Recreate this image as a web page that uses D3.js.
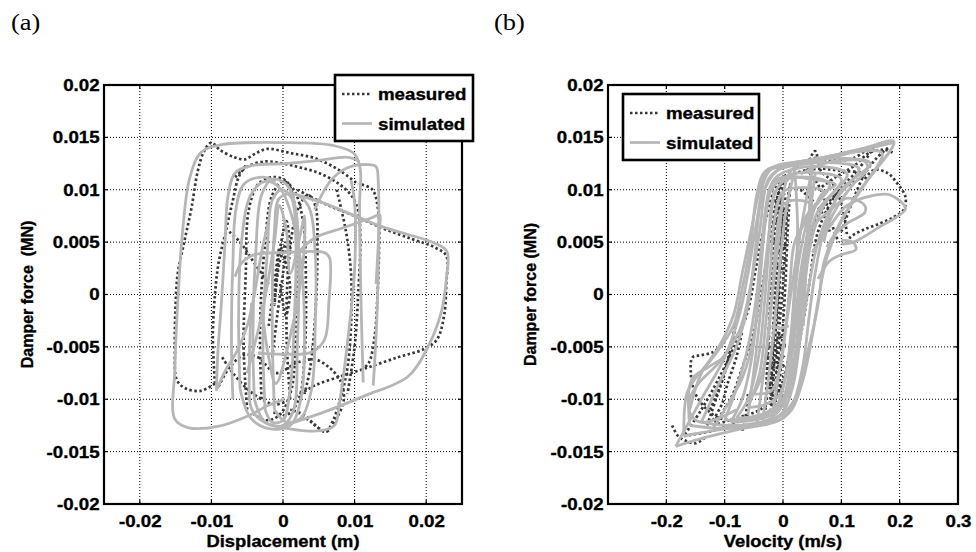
<!DOCTYPE html>
<html><head><meta charset="utf-8">
<script src="https://cdn.jsdelivr.net/npm/d3@7"></script>
<style>
html,body{margin:0;padding:0;background:#fff;}
text{font-family:"Liberation Sans",Arimo,Arial,sans-serif;font-weight:bold;fill:#000;stroke:#000;stroke-width:0.35px;}
</style></head>
<body><div id="chart"></div>
<script>
// ---------------- data ----------------
const seriesNames = ["measured", "simulated"];
const panelTitles = ["(a)", "(b)"];
const yTicks = [-0.02, -0.015, -0.01, -0.005, 0, 0.005, 0.01, 0.015, 0.02];
const xTicksA = [-0.02, -0.01, 0, 0.01, 0.02];
const xTicksB = [-0.2, -0.1, 0, 0.1, 0.2, 0.3];
const xLabels = ["Displacement (m)", "Velocity (m/s)"];
const yLabels = ["Damper force \u00a0(MN)", "Damper force (MN)"];

// panel (a): displacement [m] vs damper force [MN]
const dispMeasured = [
  [[-0.0095,-0.0085],[-0.0115,-0.0092],[-0.0135,-0.0090],[-0.0148,-0.0082],[-0.0151,-0.0050],[-0.0150,-0.0010],[-0.0147,0.0020],[-0.0138,0.0050],[-0.0128,0.0082],[-0.0119,0.0118],[-0.0110,0.0137],[-0.0100,0.0145],[-0.0088,0.0138],[-0.0068,0.0131],[-0.0053,0.0129],[-0.0040,0.0134],[-0.0022,0.0139],[0.0010,0.0135],[0.0045,0.0130],[0.0080,0.0118],[0.0105,0.0105]],
  [[0.0020,0.0100],[0.0060,0.0086],[0.0100,0.0075],[0.0140,0.0063],[0.0180,0.0053],[0.0212,0.0045],[0.0228,0.0037],[0.0228,0.0010],[0.0225,-0.0020],[0.0215,-0.0043],[0.0197,-0.0052],[0.0160,-0.0060],[0.0113,-0.0071],[0.0081,-0.0078],[0.0044,-0.0087],[0.0020,-0.0097]],
  [[-0.0067,0.0112],[-0.0050,0.0122],[-0.0025,0.0127],[0.0000,0.0125],[0.0025,0.0121],[0.0050,0.0116],[0.0075,0.0107],[0.0095,0.0095],[0.0105,0.0080],[0.0108,0.0050],[0.0105,0.0000],[0.0100,-0.0050],[0.0090,-0.0095]],
  [[0.0110,0.0105],[0.0125,0.0100],[0.0133,0.0080],[0.0134,0.0040],[0.0132,0.0000],[0.0128,-0.0040],[0.0120,-0.0065],[0.0110,-0.0072]],
  [[-0.0095,-0.0085],[-0.0098,-0.0040],[-0.0095,0.0000],[-0.0090,0.0030],[-0.0080,0.0060],[-0.0070,0.0090],[-0.0062,0.0112],[-0.0050,0.0125]],
  [[-0.0090,-0.0088],[-0.0075,-0.0070],[-0.0055,-0.0058],[-0.0035,-0.0060],[-0.0010,-0.0075],[0.0020,-0.0065],[0.0045,-0.0062],[0.0065,-0.0070],[0.0080,-0.0082],[0.0085,-0.0100],[0.0075,-0.0118],[0.0060,-0.0131],[0.0040,-0.0122],[0.0020,-0.0112]],
  [[-0.0050,-0.0110],[-0.0055,-0.0050],[-0.0052,0.0020],[-0.0048,0.0080],[-0.0035,0.0105],[-0.0015,0.0112],[0.0005,0.0108],[0.0015,0.0090],[0.0020,0.0040],[0.0018,-0.0030],[0.0012,-0.0090],[-0.0005,-0.0115],[-0.0025,-0.0120],[-0.0045,-0.0112]],
  [[-0.0030,-0.0100],[-0.0032,-0.0030],[-0.0025,0.0050],[-0.0015,0.0095],[0.0000,0.0108],[0.0015,0.0100],[0.0028,0.0070],[0.0032,0.0010],[0.0030,-0.0060],[0.0022,-0.0100],[0.0005,-0.0115],[-0.0015,-0.0112]],
  [[0.0010,-0.0100],[0.0005,-0.0040],[0.0008,0.0030],[0.0020,0.0080],[0.0035,0.0095],[0.0045,0.0085],[0.0048,0.0040],[0.0045,-0.0020],[0.0038,-0.0070],[0.0030,-0.0095]],
  [[-0.0015,-0.0060],[-0.0008,-0.0020],[0.0000,0.0020],[0.0005,0.0050],[-0.0005,0.0030],[-0.0012,-0.0010],[-0.0005,0.0040],[0.0005,0.0070],[0.0010,0.0040]],
  [[0.0075,0.0100],[0.0088,0.0060],[0.0095,0.0020],[0.0095,-0.0030],[0.0090,-0.0070],[0.0080,-0.0100],[0.0070,-0.0120],[0.0060,-0.0131],[0.0045,-0.0125],[0.0030,-0.0115],[0.0010,-0.0110]],
  [[-0.0085,-0.0060],[-0.0070,-0.0075],[-0.0050,-0.0090],[-0.0030,-0.0100],[-0.0010,-0.0105],[0.0010,-0.0100]],
  [[-0.0075,0.0060],[-0.0060,0.0050],[-0.0040,0.0030],[-0.0020,0.0010]],
  [[-0.0020,-0.0030],[-0.0012,0.0010],[-0.0004,0.0045],[0.0004,0.0030],[0.0010,0.0005],[0.0004,-0.0020],[-0.0004,0.0010]]
];
const dispSimulated = [
  [[0.0112,-0.0084],[0.0109,-0.0008],[0.0107,0.0087],[0.0108,0.0119],[0.0100,0.0134],[0.0072,0.0142],[0.0000,0.0145],[-0.0086,0.0143],[-0.0114,0.0136],[-0.0130,0.0112],[-0.0140,0.0062],[-0.0147,-0.0008],[-0.0151,-0.0071],[-0.0151,-0.0119],[-0.0133,-0.0127],[-0.0091,-0.0126],[-0.0049,-0.0116],[-0.0021,-0.0106],[0.0002,-0.0100]],
  [[-0.0007,-0.0127],[0.0058,-0.0112],[0.0113,-0.0097],[0.0175,-0.0078],[0.0203,-0.0049],[0.0221,-0.0017],[0.0228,0.0014],[0.0229,0.0041],[0.0212,0.0049],[0.0137,0.0065],[0.0058,0.0087],[0.0030,0.0093],[0.0012,0.0097]],
  [[0.0044,0.0081],[0.0067,0.0109],[0.0090,0.0121],[0.0119,0.0124],[0.0130,0.0122],[0.0133,0.0109],[0.0133,0.0024],[0.0130,-0.0040],[0.0126,-0.0087]],
  [[0.0016,0.0036],[0.0044,0.0054],[0.0081,0.0063],[0.0123,0.0073],[0.0135,0.0076],[0.0134,0.0060],[0.0130,0.0010]],
  [[-0.0093,-0.0092],[-0.0091,-0.0055],[-0.0086,-0.0008],[-0.0081,0.0049],[-0.0077,0.0093],[-0.0067,0.0116],[-0.0044,0.0123],[0.0002,0.0125],[0.0049,0.0128],[0.0091,0.0131],[0.0107,0.0127]],
  [[-0.0067,0.0017],[-0.0058,0.0030],[-0.0040,0.0038],[0.0002,0.0040],[0.0058,0.0040],[0.0065,0.0035],[0.0064,-0.0008],[0.0058,-0.0043],[0.0040,-0.0055],[0.0002,-0.0057],[-0.0035,-0.0056]],
  [[-0.0044,-0.0008],[-0.0047,-0.0071],[-0.0044,-0.0109],[-0.0026,-0.0122],[0.0007,-0.0128],[0.0053,-0.0130],[0.0072,-0.0125],[0.0079,-0.0103],[0.0091,-0.0040],[0.0100,0.0024],[0.0100,0.0087],[0.0095,0.0109]],
  [[-0.0040,-0.0100],[-0.0042,-0.0040],[-0.0038,0.0040],[-0.0030,0.0095],[-0.0015,0.0110],[0.0005,0.0105],[0.0018,0.0080],[0.0022,0.0020],[0.0020,-0.0050],[0.0015,-0.0110],[0.0000,-0.0125],[-0.0025,-0.0122],[-0.0040,-0.0100]],
  [[-0.0025,-0.0110],[-0.0028,-0.0040],[-0.0022,0.0040],[-0.0015,0.0090],[-0.0002,0.0100],[0.0012,0.0092],[0.0018,0.0050],[0.0016,-0.0020],[0.0010,-0.0090],[0.0000,-0.0120],[-0.0015,-0.0122],[-0.0025,-0.0110]],
  [[-0.0050,-0.0075],[-0.0030,-0.0020],[-0.0012,0.0050],[-0.0005,0.0085],[0.0005,0.0060],[0.0010,0.0020],[0.0025,0.0060],[0.0030,0.0075],[0.0028,0.0030],[0.0010,-0.0040],[-0.0010,-0.0085],[-0.0020,-0.0060],[-0.0030,-0.0010]],
  [[-0.0060,-0.0090],[-0.0062,-0.0020],[-0.0058,0.0050],[-0.0045,0.0095],[-0.0025,0.0108],[-0.0005,0.0102],[0.0010,0.0080],[0.0025,0.0030],[0.0030,-0.0040],[0.0025,-0.0100],[0.0010,-0.0125],[-0.0020,-0.0128],[-0.0045,-0.0118],[-0.0060,-0.0090]],
  [[-0.0012,-0.0110],[-0.0015,-0.0030],[-0.0012,0.0060],[-0.0005,0.0092],[0.0015,0.0096],[0.0035,0.0085],[0.0045,0.0040],[0.0045,-0.0030],[0.0040,-0.0090],[0.0025,-0.0118],[0.0005,-0.0122],[-0.0012,-0.0110]],
  [[-0.0092,-0.0090],[-0.0080,-0.0072],[-0.0065,-0.0055],[-0.0050,-0.0030],[-0.0040,0.0000],[-0.0030,0.0040],[-0.0020,0.0070]],
  [[-0.0070,-0.0100],[-0.0072,-0.0040],[-0.0070,0.0030],[-0.0066,0.0080],[-0.0055,0.0105],[-0.0030,0.0112],[-0.0010,0.0108]]
];

// panel (b): velocity [m/s] vs damper force [MN]
const velMeasured = [
  [[-0.17,-0.0135],[-0.12,-0.0130],[-0.07,-0.0120],[-0.02,-0.0112],[0.01,-0.0090],[0.03,-0.0040],[0.045,0.0010],[0.06,0.0060],[0.09,0.0095],[0.13,0.0120],[0.155,0.0142],[0.12,0.0130],[0.08,0.0128],[0.05,0.0130],[0.02,0.0120],[-0.01,0.0105],[-0.03,0.0070],[-0.045,0.0030],[-0.06,-0.0015],[-0.08,-0.0045],[-0.11,-0.0080],[-0.14,-0.0110],[-0.17,-0.0135]],
  [[-0.12,-0.0125],[-0.08,-0.0118],[-0.04,-0.0110],[-0.01,-0.0095],[0.01,-0.0060],[0.025,-0.0010],[0.04,0.0040],[0.06,0.0075],[0.10,0.0100],[0.14,0.0115],[0.10,0.0118],[0.06,0.0120],[0.02,0.0115],[-0.005,0.0100],[-0.02,0.0060],[-0.035,0.0010],[-0.05,-0.0035],[-0.07,-0.0070],[-0.09,-0.0100],[-0.12,-0.0125]],
  [[-0.028,-0.0105],[-0.026,-0.0060],[-0.022,-0.0010],[-0.018,0.0040],[-0.012,0.0080],[-0.005,0.0095],[0.000,0.0080],[-0.004,0.0040],[-0.010,-0.0010],[-0.015,-0.0060],[-0.018,-0.0100],[-0.022,-0.0112]],
  [[-0.020,-0.0095],[-0.018,-0.0050],[-0.014,0.0000],[-0.010,0.0050],[-0.006,0.0085],[-0.002,0.0070],[-0.004,0.0030],[-0.008,-0.0020],[-0.010,-0.0060],[-0.012,-0.0090]],
  [[-0.012,-0.0100],[-0.008,-0.0060],[-0.006,-0.0030],[0.000,0.0010],[0.004,0.0050],[0.008,0.0090],[0.012,0.0105],[0.008,0.0060],[0.004,0.0010],[0.000,-0.0030],[-0.004,-0.0070],[-0.008,-0.0100]],
  [[-0.030,-0.0110],[-0.028,-0.0080],[-0.025,-0.0040],[-0.020,0.0000],[-0.015,0.0050],[-0.010,0.0090],[-0.004,0.0105],[0.002,0.0095],[0.004,0.0060]],
  [[-0.024,-0.0095],[-0.020,-0.0065],[-0.016,-0.0035],[-0.012,0.0015],[-0.008,0.0065],[-0.003,0.0088],[0.001,0.0075]],
  [[-0.022,-0.0105],[-0.019,-0.0070],[-0.016,-0.0040],[-0.013,-0.0010],[-0.010,0.0030],[-0.007,0.0060],[-0.004,0.0090],[0.000,0.0100]],
  [[-0.018,0.0062],[0.004,0.0058],[-0.017,0.0050],[0.005,0.0046],[-0.016,0.0038],[0.004,0.0034],[-0.014,0.0028],[0.002,0.0024]],
  [[-0.016,0.0090],[0.004,0.0086],[-0.017,0.0078],[0.005,0.0074],[-0.017,0.0068],[0.004,0.0066]],
  [[-0.026,-0.0040],[0.002,-0.0038],[-0.027,-0.0050],[0.003,-0.0048],[-0.027,-0.0060],[0.002,-0.0058],[-0.026,-0.0070],[0.001,-0.0068],[-0.025,-0.0080],[0.000,-0.0078]],
  [[-0.024,-0.0086],[0.000,-0.0088],[-0.022,-0.0095],[0.000,-0.0098],[-0.020,-0.0104],[-0.002,-0.0106]],
  [[0.11,0.0049],[0.116,0.0055],[0.139,0.0062],[0.167,0.0068],[0.19,0.0074],[0.207,0.0081],[0.21,0.0093],[0.196,0.0106],[0.179,0.0116],[0.156,0.0119],[0.14,0.0110]],
  [[0.06,0.0100],[0.09,0.0112],[0.12,0.0122],[0.15,0.0136],[0.175,0.0138],[0.19,0.0135]],
  [[0.10,0.0060],[0.12,0.0090],[0.14,0.0115],[0.16,0.0130],[0.18,0.0140]],
  [[0.04,0.0120],[0.06,0.0105],[0.075,0.0085],[0.085,0.0065],[0.095,0.0050]],
  [[0.045,0.0128],[0.055,0.0137],[0.065,0.0118],[0.08,0.0110],[0.095,0.0095],[0.105,0.0075],[0.11,0.0055]],
  [[0.03,0.0100],[0.05,0.0090],[0.07,0.0075],[0.08,0.0060]],
  [[-0.19,-0.0125],[-0.18,-0.0135],[-0.165,-0.0140],[-0.15,-0.0142],[-0.13,-0.0135]],
  [[-0.10,-0.0045],[-0.12,-0.0055],[-0.14,-0.0058],[-0.155,-0.0060],[-0.158,-0.0075],[-0.15,-0.0095],[-0.13,-0.0110],[-0.11,-0.0118],[-0.08,-0.0120]],
  [[-0.13,-0.0125],[-0.115,-0.0100],[-0.10,-0.0075],[-0.09,-0.0050],[-0.08,-0.0025],[-0.073,-0.0010]],
  [[-0.125,-0.0110],[-0.11,-0.0090],[-0.095,-0.0065],[-0.085,-0.0040],[-0.075,-0.0015]],
  [[-0.12,-0.0120],[-0.105,-0.0105],[-0.095,-0.0085],[-0.08,-0.0060],[-0.07,-0.0035]],
  [[-0.06,-0.0095],[-0.065,-0.0120],[-0.07,-0.0130]]
];
const velSimulated = [
  [[-0.184,-0.0145],[-0.13,-0.0136],[-0.07,-0.0128],[-0.01,-0.0121],[0.015,-0.0110],[0.035,-0.0080],[0.050,-0.0040],[0.062,0.0000],[0.075,0.0035],[0.10,0.0070],[0.14,0.0105],[0.19,0.0146],[0.14,0.0140],[0.08,0.0132],[0.03,0.0127],[-0.015,0.0122],[-0.03,0.0112],[-0.045,0.0070],[-0.060,0.0020],[-0.075,-0.0020],[-0.10,-0.0060],[-0.14,-0.0100],[-0.184,-0.0145]],
  [[-0.16,-0.0125],[-0.10,-0.0128],[-0.04,-0.0124],[0.0,-0.0118],[0.02,-0.0100],[0.035,-0.0065],[0.045,-0.0020],[0.055,0.0020],[0.07,0.0060],[0.10,0.0100],[0.15,0.0125],[0.11,0.0130],[0.05,0.0128],[0.0,0.0122],[-0.025,0.0110],[-0.04,0.0060],[-0.055,0.0010],[-0.075,-0.0035],[-0.11,-0.0065],[-0.145,-0.0085],[-0.16,-0.0100],[-0.16,-0.0125]],
  [[-0.12,-0.0128],[-0.07,-0.0125],[-0.02,-0.0118],[0.005,-0.0100],[0.02,-0.0060],[0.03,-0.0010],[0.04,0.0040],[0.06,0.0080],[0.11,0.0115],[0.07,0.0122],[0.02,0.0120],[-0.015,0.0110],[-0.03,0.0070],[-0.04,0.0010],[-0.05,-0.0040],[-0.07,-0.0080],[-0.10,-0.0110],[-0.12,-0.0128]],
  [[-0.08,-0.0118],[-0.04,-0.0115],[-0.01,-0.0105],[0.005,-0.0075],[0.015,-0.0030],[0.022,0.0020],[0.035,0.0070],[0.08,0.0105],[0.04,0.0112],[0.0,0.0108],[-0.018,0.0090],[-0.025,0.0040],[-0.032,-0.0010],[-0.042,-0.0060],[-0.06,-0.0100],[-0.08,-0.0118]],
  [[-0.05,-0.0095],[-0.02,-0.0092],[-0.005,-0.0070],[0.005,-0.0030],[0.012,0.0010],[0.02,0.0050],[0.05,0.0085],[0.02,0.0090],[0.0,0.0085],[-0.012,0.0050],[-0.018,0.0005],[-0.025,-0.0040],[-0.035,-0.0075],[-0.05,-0.0095]],
  [[-0.09,-0.0122],[-0.05,-0.0120],[-0.02,-0.0115],[0.0,-0.0100],[0.012,-0.0070],[0.02,-0.0030],[0.03,0.0020],[0.045,0.0065],[0.065,0.0095],[0.09,0.0105],[0.05,0.0110],[0.0,0.0112],[-0.02,0.0105],[-0.03,0.0080],[-0.038,0.0030],[-0.045,-0.0020],[-0.055,-0.0065],[-0.07,-0.0100],[-0.09,-0.0122]],
  [[0.05,0.0040],[0.08,0.0065],[0.11,0.0085],[0.15,0.0094],[0.184,0.0095],[0.21,0.0082],[0.195,0.0074],[0.167,0.0065],[0.138,0.0055],[0.121,0.0050],[0.10,0.0048]],
  [[0.03,0.0115],[0.07,0.0125],[0.10,0.0128],[0.14,0.0127],[0.145,0.0120],[0.12,0.0105],[0.10,0.0090],[0.08,0.0070],[0.07,0.0050]],
  [[0.04,0.0060],[0.08,0.0080],[0.11,0.0092],[0.14,0.0085],[0.14,0.0078],[0.11,0.0068],[0.09,0.0058],[0.075,0.0045]],
  [[0.06,0.0015],[0.08,0.0032],[0.10,0.0038],[0.125,0.0043],[0.12,0.0050],[0.10,0.0052]],
  [[-0.14,-0.0122],[-0.09,-0.0125],[-0.03,-0.0122],[0.0,-0.0112],[0.018,-0.0085],[0.03,-0.0040],[0.045,0.0010],[0.06,0.0050],[0.09,0.0090],[0.13,0.0120],[0.08,0.0126],[0.03,0.0124],[-0.01,0.0118],[-0.035,0.0095],[-0.048,0.0040],[-0.06,-0.0010],[-0.08,-0.0050],[-0.11,-0.0085],[-0.14,-0.0122]],
  [[-0.10,-0.0120],[-0.05,-0.0118],[-0.015,-0.0110],[0.01,-0.0090],[0.025,-0.0050],[0.035,0.0000],[0.05,0.0055],[0.07,0.0085],[0.10,0.0110],[0.06,0.0116],[0.01,0.0114],[-0.02,0.0100],[-0.035,0.0055],[-0.045,0.0000],[-0.06,-0.0050],[-0.08,-0.0090],[-0.10,-0.0120]],
  [[-0.06,-0.0108],[-0.03,-0.0105],[-0.005,-0.0095],[0.01,-0.0060],[0.018,-0.0015],[0.028,0.0035],[0.045,0.0075],[0.07,0.0098],[0.03,0.0102],[0.0,0.0098],[-0.015,0.0070],[-0.022,0.0020],[-0.03,-0.0030],[-0.04,-0.0075],[-0.06,-0.0108]],
  [[-0.17,-0.0135],[-0.12,-0.0130],[-0.06,-0.0125],[-0.01,-0.0118],[0.02,-0.0100],[0.04,-0.0060],[0.06,-0.0010],[0.07,0.0030],[0.09,0.0060],[0.12,0.0090],[0.17,0.0135],[0.12,0.0136],[0.06,0.0130],[0.01,0.0125],[-0.03,0.0118],[-0.045,0.0095],[-0.055,0.0050],[-0.07,0.0005],[-0.085,-0.0030],[-0.12,-0.0060],[-0.15,-0.0080],[-0.165,-0.0095],[-0.17,-0.0135]],
  [[-0.16,-0.0110],[-0.14,-0.0075],[-0.11,-0.0050],[-0.085,-0.0020],[-0.07,0.0020],[-0.055,0.0060],[-0.04,0.0100],[-0.025,0.0118],[0.0,0.0122],[0.05,0.0126],[0.10,0.0133],[0.15,0.0140],[0.19,0.0145]],
  [[-0.10,-0.0060],[-0.13,-0.0070],[-0.155,-0.0080],[-0.162,-0.0095],[-0.158,-0.0115],[-0.14,-0.0122],[-0.11,-0.0118],[-0.08,-0.0110]],
  [[-0.045,-0.0125],[-0.03,-0.0060],[-0.01,0.0040],[0.01,0.0115],[0.03,0.0125]],
  [[-0.035,-0.0120],[-0.025,-0.0080],[-0.015,-0.0030],[-0.005,0.0030],[0.005,0.0080],[0.02,0.0118]],
  [[-0.02,-0.0122],[0.0,-0.0050],[0.03,0.0060],[0.05,0.0120]],
  [[0.0,-0.0118],[0.02,-0.0040],[0.04,0.0050],[0.055,0.0115]],
  [[-0.06,-0.0115],[-0.045,-0.0050],[-0.03,0.0030],[-0.015,0.0100]],
  [[0.02,0.0120],[0.025,0.0060],[0.02,0.0000],[0.015,-0.0060],[0.01,-0.0100]],
  [[0.05,0.0128],[0.045,0.0080],[0.04,0.0030],[0.035,-0.0030]],
  [[-0.02,-0.0030],[-0.005,-0.0032],[0.01,-0.0030]]
];

// ---------------- drawing ----------------
const W = 976, H = 552;
const svg = d3.select("#chart").append("svg").attr("width", W).attr("height", H)
  .style("display","block");

const fmt = d => d === 0 ? "0" : String(+d.toFixed(3));
const SX = 1.1;

function stretched(g, x, y, str, size, anchor, sx, family) {
  const t = g.append("text")
    .attr("transform", `translate(${x},${y}) scale(${sx},1)`)
    .attr("text-anchor", anchor)
    .style("font-size", size + "px")
    .text(str);
  if (family) t.style("font-family", family).style("font-weight", "normal").style("stroke", "none");
  return t;
}

function panel(o, idx) {
  const x = d3.scaleLinear().domain(o.xDomain).range([o.left, o.right]);
  const y = d3.scaleLinear().domain([-0.02, 0.02]).range([o.bottom, o.top]);
  const g = svg.append("g");
  const clipId = "clip" + idx;
  svg.append("clipPath").attr("id", clipId).append("rect")
    .attr("x", o.left).attr("y", o.top).attr("width", o.right - o.left).attr("height", o.bottom - o.top);

  // grid
  const grid = g.append("g").attr("stroke", "#000").attr("stroke-width", 1).attr("stroke-dasharray", "1,2");
  o.xTicks.filter(v => x(v) > o.left + 1 && x(v) < o.right - 1).forEach(v => {
    grid.append("line").attr("x1", x(v)).attr("x2", x(v)).attr("y1", o.top).attr("y2", o.bottom);
  });
  yTicks.filter(v => y(v) > o.top + 1 && y(v) < o.bottom - 1).forEach(v => {
    grid.append("line").attr("x1", o.left).attr("x2", o.right).attr("y1", y(v)).attr("y2", y(v));
  });

  const line = d3.line().x(d => x(d[0])).y(d => y(d[1])).curve(d3.curveCatmullRom.alpha(0.5));
  const plot = g.append("g").attr("clip-path", `url(#${clipId})`);
  plot.selectAll("path.meas").data(o.measured).join("path").attr("class","meas")
    .attr("d", line).attr("fill", "none").attr("stroke", "#383838")
    .attr("stroke-width", 2.7).attr("stroke-dasharray", "2.5,2.5");
  plot.selectAll("path.sim").data(o.simulated).join("path").attr("class","sim")
    .attr("d", line).attr("fill", "none").attr("stroke", "#b6b6b6")
    .attr("stroke-width", 2.8).attr("stroke-linejoin","round");

  // inward tick marks
  const tk = g.append("g").attr("stroke", "#000").attr("stroke-width", 1.2);
  o.xTicks.forEach(v => {
    tk.append("line").attr("x1", x(v)).attr("x2", x(v)).attr("y1", o.bottom).attr("y2", o.bottom - 4);
    tk.append("line").attr("x1", x(v)).attr("x2", x(v)).attr("y1", o.top).attr("y2", o.top + 4);
  });
  yTicks.forEach(v => {
    tk.append("line").attr("x1", o.left).attr("x2", o.left + 4).attr("y1", y(v)).attr("y2", y(v));
    tk.append("line").attr("x1", o.right).attr("x2", o.right - 4).attr("y1", y(v)).attr("y2", y(v));
  });

  // frame
  g.append("rect").attr("x", o.left).attr("y", o.top).attr("width", o.right - o.left)
    .attr("height", o.bottom - o.top).attr("fill", "none").attr("stroke", "#000").attr("stroke-width", 2.2);

  // tick labels via d3 axes
  const ax = g.append("g").attr("transform", `translate(0,${o.bottom})`)
    .call(d3.axisBottom(x).tickValues(o.xTicks).tickFormat(fmt).tickSize(0).tickPadding(11));
  ax.select(".domain").remove();
  ax.selectAll("text").style("font-size", "17px")
    .attr("transform", `scale(${SX},1)`).attr("dy", "0.71em");

  const ay = g.append("g").attr("transform", `translate(${o.left},0)`)
    .call(d3.axisLeft(y).tickValues(yTicks).tickFormat(fmt).tickSize(0).tickPadding(4));
  ay.select(".domain").remove();
  ay.selectAll("text").style("font-size", "17px")
    .attr("transform", `scale(${SX},1)`);
  [ax, ay].forEach(a => a.attr("font-family", null).attr("font-size", null));

  // axis titles
  stretched(g, (o.left + o.right) / 2, 547, o.xLabel, 17, "middle", 1.08);
  g.append("text").attr("transform", `translate(${o.yLabelX},${(o.top + o.bottom) / 2}) rotate(-90)`)
    .attr("text-anchor", "middle").style("font-size", "16px").text(o.yLabel);

  // panel title
  stretched(svg, o.titleX, 30, o.title, 23, "start", 1.15, "'Liberation Serif','Times New Roman',serif");

  // legend
  const L = o.legend;
  const lg = g.append("g");
  lg.append("rect").attr("x", L.x).attr("y", L.y).attr("width", L.w).attr("height", L.h)
    .attr("fill", "#fff").attr("stroke", "#000").attr("stroke-width", 2.6);
  const rows = [
    {name: seriesNames[0], stroke: "#383838", dash: "2.5,2.5"},
    {name: seriesNames[1], stroke: "#b6b6b6", dash: null}
  ];
  rows.forEach((r, i) => {
    const yy = L.y + 19 + i * 29.5;
    lg.append("line").attr("x1", L.x + 7).attr("x2", L.x + 37).attr("y1", yy).attr("y2", yy)
      .attr("stroke", r.stroke).attr("stroke-width", 2.7).attr("stroke-dasharray", r.dash);
    stretched(lg, L.x + 43, yy + 6, r.name, 17, "start", SX);
  });
}

panel({left: 104, right: 462, top: 85, bottom: 504, xDomain: [-0.025, 0.025], xTicks: xTicksA,
  xLabel: xLabels[0], yLabel: yLabels[0], yLabelX: 33, title: panelTitles[0], titleX: 11,
  measured: dispMeasured, simulated: dispSimulated,
  legend: {x: 335, y: 75, w: 138, h: 66}}, 0);

panel({left: 608, right: 958, top: 85, bottom: 504, xDomain: [-0.3, 0.3], xTicks: xTicksB,
  xLabel: xLabels[1], yLabel: yLabels[1], yLabelX: 536, title: panelTitles[1], titleX: 494,
  measured: velMeasured, simulated: velSimulated,
  legend: {x: 623, y: 94, w: 136, h: 66}}, 1);
</script>
</body></html>
